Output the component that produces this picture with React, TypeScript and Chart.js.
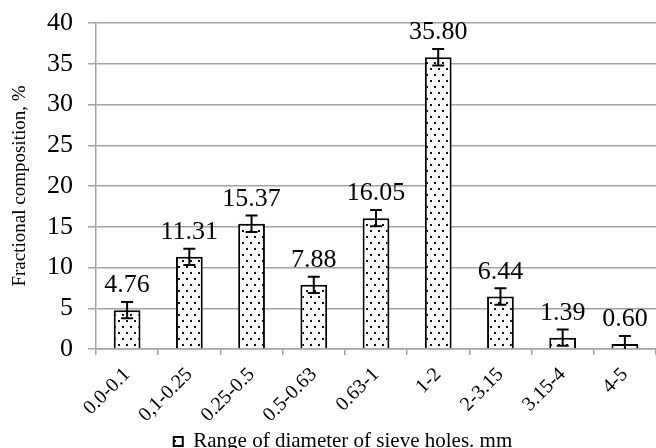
import React, { useEffect, useRef } from 'react';
import { Chart, registerables } from 'chart.js';

Chart.register(...registerables);

const categories = ['0.0-0.1', '0,1-0.25', '0.25-0.5', '0.5-0.63', '0.63-1', '1-2', '2-3.15', '3.15-4', '4-5'];
const values = [4.76, 11.31, 15.37, 7.88, 16.05, 35.8, 6.44, 1.39, 0.6];
const errors = [1, 1, 1, 1, 1, 1, 1, 1, 1];
const yMin = 0;
const yMax = 40;
const yStep = 5;
const seriesLabel = 'Range of diameter of sieve holes. mm';
const yTitle = 'Fractional composition, %';

const SERIF = '"Liberation Serif", "Times New Roman", serif';
const GRID = '#a3a3a3';

function makePattern(): CanvasPattern | string {
  const c = document.createElement('canvas');
  c.width = 8;
  c.height = 12;
  const g = c.getContext('2d');
  if (!g) return '#fff';
  g.fillStyle = '#fff';
  g.fillRect(0, 0, 8, 12);
  g.fillStyle = '#111';
  g.fillRect(2, 2, 2, 2);
  g.fillRect(6, 8, 2, 2);
  const p = g.createPattern(c, 'repeat');
  return p || '#fff';
}

const overlayPlugin = {
  id: 'errorsAndLabels',
  afterDatasetsDraw(chart: any) {
    const ctx = chart.ctx as CanvasRenderingContext2D;
    const meta = chart.getDatasetMeta(0);
    const ys = chart.scales.y;
    ctx.save();
    meta.data.forEach((bar: any, i: number) => {
      const v = values[i];
      const e = errors[i];
      const x = bar.x;
      const hi = ys.getPixelForValue(v + e);
      const lo = ys.getPixelForValue(Math.max(yMin, v - e));
      ctx.strokeStyle = '#000';
      ctx.lineWidth = 2;
      ctx.beginPath();
      ctx.moveTo(x, hi);
      ctx.lineTo(x, lo);
      ctx.moveTo(x - 6, hi);
      ctx.lineTo(x + 6, hi);
      if (v - e > yMin) {
        ctx.moveTo(x - 6, lo);
        ctx.lineTo(x + 6, lo);
      }
      ctx.stroke();
      ctx.fillStyle = '#000';
      ctx.font = `26px ${SERIF}`;
      ctx.textAlign = 'center';
      ctx.textBaseline = 'alphabetic';
      ctx.fillText(v.toFixed(2), x, bar.y - 18);
    });
    ctx.restore();
  },
};

const legendShiftPlugin = {
  id: 'legendShift',
  afterLayout(chart: any) {
    const lg = chart.legend;
    if (!lg) return;
    const w = lg.right - lg.left;
    const c = 343;
    lg.left = c - w / 2;
    lg.right = c + w / 2;
  },
};

export default function App() {
  const ref = useRef<HTMLCanvasElement | null>(null);

  useEffect(() => {
    if (!ref.current) return;
    const pattern = makePattern();
    const chart = new Chart(ref.current, {
      type: 'bar',
      data: {
        labels: categories,
        datasets: [
          {
            label: seriesLabel,
            data: values,
            backgroundColor: pattern as any,
            borderColor: '#000',
            borderWidth: 2,
            categoryPercentage: 1,
            barPercentage: 0.43,
          },
        ],
      },
      options: {
        responsive: false,
        animation: false,
        layout: { padding: { top: 23, left: 0, right: -6, bottom: -14 } },
        plugins: {
          tooltip: { enabled: false },
          legend: {
            display: true,
            position: 'bottom',
            labels: {
              boxWidth: 9,
              boxHeight: 9,
              padding: 4,
              color: '#000',
              font: { family: SERIF, size: 21 },
            },
          },
        },
        scales: {
          x: {
            offset: true,
            grid: {
              offset: true,
              drawOnChartArea: false,
              drawTicks: true,
              tickLength: 6,
              color: GRID,
              lineWidth: 1.5,
            },
            border: { display: true, color: GRID, width: 1.5 },
            ticks: {
              autoSkip: false,
              maxRotation: 45,
              minRotation: 45,
              padding: 8,
              color: '#000',
              font: { family: SERIF, size: 20 },
            },
            afterFit(scale: any) {
              scale.height = 78;
            },
          },
          y: {
            min: yMin,
            max: yMax,
            grid: {
              color: GRID,
              lineWidth: 1.5,
              drawTicks: true,
              tickLength: 8,
            },
            border: { display: true, color: GRID, width: 1.5 },
            ticks: {
              stepSize: yStep,
              padding: 15,
              color: '#000',
              font: { family: SERIF, size: 26 },
            },
            title: {
              display: true,
              text: yTitle,
              color: '#000',
              font: { family: SERIF, size: 19 },
              padding: { top: 9, bottom: 0 },
            },
            afterFit(scale: any) {
              scale.width = 96;
              scale.paddingTop = 0;
              scale.paddingBottom = 0;
            },
          },
        },
      },
      plugins: [overlayPlugin, legendShiftPlugin],
    });
    return () => chart.destroy();
  }, []);

  return (
    <div style={{ position: 'fixed', left: 0, top: 0, width: 656, height: 448, background: '#fff' }}>
      <canvas ref={ref} width={656} height={448} style={{ display: 'block' }} />
    </div>
  );
}
